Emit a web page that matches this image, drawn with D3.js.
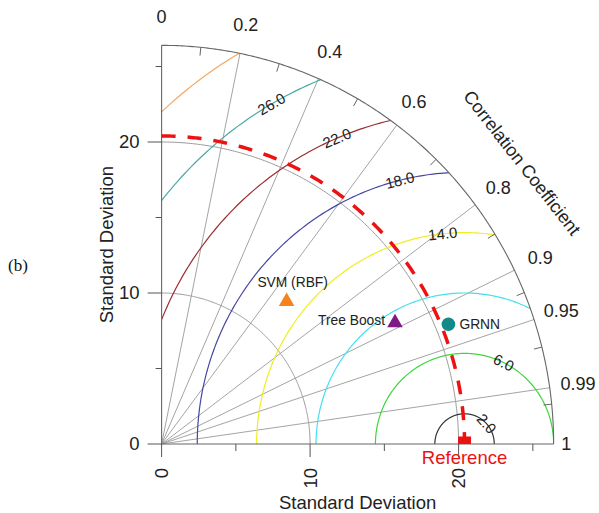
<!DOCTYPE html>
<html><head><meta charset="utf-8">
<script src="https://cdn.jsdelivr.net/npm/d3@7/dist/d3.min.js"></script>
<style>body{margin:0;background:#fff}</style>
</head><body><svg id="c" width="599" height="513"></svg>
<script>
// ---------- data ----------
const refSD = 20.4;
const maxSD = 26.4;
const sdTicks = [0, 5, 10, 15, 20, 25];
const sdTickLabels = [0, 10, 20];
const sdArcs = [10, 20];
const corrLines = [0.2, 0.4, 0.6, 0.8, 0.9, 0.95, 0.99];
const corrMinorTicks = [0.1, 0.3, 0.5, 0.7, 0.85, 0.925, 0.97, 0.995];
const corrLabels = ["0", "0.2", "0.4", "0.6", "0.8", "0.9", "0.95", "0.99", "1"];
const rmsLevels = [2, 6, 10, 14, 18, 22, 26, 30];
const rmsLabelLevels = ["2.0", "6.0", "14.0", "18.0", "22.0", "26.0"];
const models = ["SVM (RBF)", "Tree Boost", "GRNN"];
const modelSD = [12.70, 17.68, 20.88];
const modelCorr = [0.663, 0.889, 0.925];

// ---------- styles / layout ----------
const rmsColors = ["#333333", "#3dd63d", "#45e0ef", "#eeee22", "#4646a2", "#9b2d30", "#4aa9a6", "#f2a862"];
const rmsLabelAngle = {"2.0": 42, "6.0": 64, "14.0": 96, "18.0": 104, "22.0": 113, "26.0": 120};
const modelStyle = [
  {shape: "tri", color: "#f5841f", dx: 6, dy: -18, anchor: "middle"},
  {shape: "tri", color: "#7d1b86", dx: -10, dy: -2, anchor: "end"},
  {shape: "circ", color: "#138a8a", dx: 11, dy: 0, anchor: "start"}
];
const FONT = "'Liberation Sans', Arial, sans-serif";

const svg = d3.select("#c");
const xs = d3.scaleLinear().domain([0, maxSD]).range([161.6, 161.6 + maxSD * 14.85]);
const ys = d3.scaleLinear().domain([0, maxSD]).range([444, 444 - maxSD * 15.1]);
const P = (r, th) => [xs(r * Math.cos(th)), ys(r * Math.sin(th))];
const line = d3.line();
const arcPts = (cx, r, a0, a1, n = 240) => d3.range(n + 1).map(i => {
  const t = a0 + (a1 - a0) * i / n;
  return [xs(cx + r * Math.cos(t)), ys(r * Math.sin(t))];
});

// clip: quarter disc
const clipPts = [[xs(0), ys(0)]].concat(arcPts(0, maxSD, 0, Math.PI / 2));
svg.append("clipPath").attr("id", "q").append("path").attr("d", line(clipPts) + "Z");

// gray sd arcs
sdArcs.forEach(r => {
  svg.append("path").attr("d", line(arcPts(0, r, 0, Math.PI / 2)))
    .attr("fill", "none").attr("stroke", "#9a9a9a").attr("stroke-width", 1);
});
// radial correlation lines
corrLines.forEach(c => {
  const th = Math.acos(c);
  svg.append("line").attr("x1", xs(0)).attr("y1", ys(0))
    .attr("x2", P(maxSD, th)[0]).attr("y2", P(maxSD, th)[1])
    .attr("stroke", "#9a9a9a").attr("stroke-width", 0.9);
});
// RMS contours
const cg = svg.append("g").attr("clip-path", "url(#q)");
rmsLevels.forEach((lv, i) => {
  cg.append("path").attr("d", line(arcPts(refSD, lv, 0, Math.PI)))
    .attr("fill", "none").attr("stroke", rmsColors[i]).attr("stroke-width", 1.2);
});
// contour labels
rmsLabelLevels.forEach(lb => {
  const lv = +lb, a = rmsLabelAngle[lb] * Math.PI / 180;
  const x = xs(refSD + lv * Math.cos(a)), y = ys(lv * Math.sin(a));
  svg.append("text").attr("transform", `translate(${x},${y}) rotate(${90 - rmsLabelAngle[lb]})`)
    .attr("text-anchor", "middle").attr("dy", "0.35em")
    .attr("font-family", FONT).attr("font-size", 15).attr("fill", "#222").text(lb);
});

// outer arc & axes
svg.append("path").attr("d", line(arcPts(0, maxSD, 0, Math.PI / 2)))
  .attr("fill", "none").attr("stroke", "#666").attr("stroke-width", 1.1);
svg.append("line").attr("x1", xs(0)).attr("y1", ys(0)).attr("x2", xs(maxSD)).attr("y2", ys(0))
  .attr("stroke", "#666").attr("stroke-width", 1.1);
svg.append("line").attr("x1", xs(0)).attr("y1", ys(0)).attr("x2", xs(0)).attr("y2", ys(maxSD))
  .attr("stroke", "#666").attr("stroke-width", 1.1);

// outer arc minor ticks
corrMinorTicks.forEach(c => {
  const th = Math.acos(c);
  const a = P(maxSD, th), b = P(maxSD - 0.55, th);
  svg.append("line").attr("x1", a[0]).attr("y1", a[1]).attr("x2", b[0]).attr("y2", b[1])
    .attr("stroke", "#666").attr("stroke-width", 1);
});

// sd ticks
sdTicks.forEach(t => {
  const major = sdTickLabels.includes(t);
  svg.append("line").attr("x1", xs(0)).attr("x2", xs(0) - (major ? 14 : 6))
    .attr("y1", ys(t)).attr("y2", ys(t)).attr("stroke", "#555");
  svg.append("line").attr("y1", ys(0)).attr("y2", ys(0) + (major ? 13 : 7))
    .attr("x1", xs(t)).attr("x2", xs(t)).attr("stroke", "#555");
});
sdTickLabels.forEach(t => {
  svg.append("text").attr("x", xs(0) - 22).attr("y", ys(t)).attr("dy", "0.35em")
    .attr("text-anchor", "end").attr("font-family", FONT).attr("font-size", 18.5).attr("fill", "#222").text(t);
  svg.append("text").attr("transform", `translate(${xs(t)},${ys(0) + 24}) rotate(-90)`)
    .attr("dy", "0.35em").attr("text-anchor", "end")
    .attr("font-family", FONT).attr("font-size", 18.5).attr("fill", "#222").text(t);
});

// correlation labels
corrLabels.forEach(lb => {
  const c = +lb, th = Math.acos(c);
  const off = c === 1 ? 0.85 : 1.93;
  const p = P(maxSD + off, th);
  svg.append("text").attr("x", p[0]).attr("y", p[1]).attr("dy", "0.35em")
    .attr("text-anchor", "middle").attr("font-family", FONT).attr("font-size", 18)
    .attr("fill", "#222").text(lb);
});
{
  const th = 37.5 * Math.PI / 180;
  const p = P(30.6, th);
  svg.append("text").attr("transform", `translate(${p[0]},${p[1]}) rotate(52)`)
    .attr("text-anchor", "middle").attr("dy", "0.35em")
    .attr("font-family", FONT).attr("font-size", 18).attr("fill", "#222").text("Correlation Coefficient");
}

// axis titles
svg.append("text").attr("x", (xs(0) + xs(maxSD)) / 2).attr("y", 503).attr("dy", "0.35em")
  .attr("text-anchor", "middle").attr("font-family", FONT).attr("font-size", 18.5).attr("fill", "#222")
  .text("Standard Deviation");
svg.append("text").attr("transform", `translate(107,${(ys(0) + ys(maxSD)) / 2}) rotate(-90)`)
  .attr("dy", "0.35em").attr("text-anchor", "middle").attr("font-family", FONT).attr("font-size", 18.5)
  .attr("fill", "#222").text("Standard Deviation");
svg.append("text").attr("x", 8).attr("y", 265).attr("dy", "0.35em")
  .attr("font-family", "'Liberation Serif', 'Times New Roman', serif").attr("font-size", 17)
  .attr("fill", "#111").text("(b)");

// reference dashed arc
svg.append("path").attr("d", line(arcPts(0, refSD, Math.PI / 2, 0)))
  .attr("fill", "none").attr("stroke", "#ee1111").attr("stroke-width", 3.5)
  .attr("stroke-dasharray", "14,12");
svg.append("rect").attr("x", xs(refSD) - 6.5).attr("y", ys(0) - 7.5).attr("width", 13).attr("height", 7.5)
  .attr("fill", "#ee1111");
svg.append("text").attr("x", xs(refSD)).attr("y", 458).attr("dy", "0.35em")
  .attr("text-anchor", "middle").attr("font-family", FONT).attr("font-size", 18.5)
  .attr("fill", "#ee1111").text("Reference");

// model points
models.forEach((m, i) => {
  const th = Math.acos(modelCorr[i]);
  const p = P(modelSD[i], th);
  const st = modelStyle[i];
  if (st.shape === "tri") {
    svg.append("path").attr("d", d3.symbol().type(d3.symbolTriangle).size(105)())
      .attr("transform", `translate(${p[0]},${p[1] + 1})`).attr("fill", st.color);
  } else {
    svg.append("circle").attr("cx", p[0]).attr("cy", p[1]).attr("r", 6.8).attr("fill", st.color);
  }
  svg.append("text").attr("x", p[0] + st.dx).attr("y", p[1] + st.dy).attr("dy", "0.35em")
    .attr("text-anchor", st.anchor).attr("font-family", FONT).attr("font-size", 13.8)
    .attr("fill", "#222").text(m);
});
</script></body></html>
